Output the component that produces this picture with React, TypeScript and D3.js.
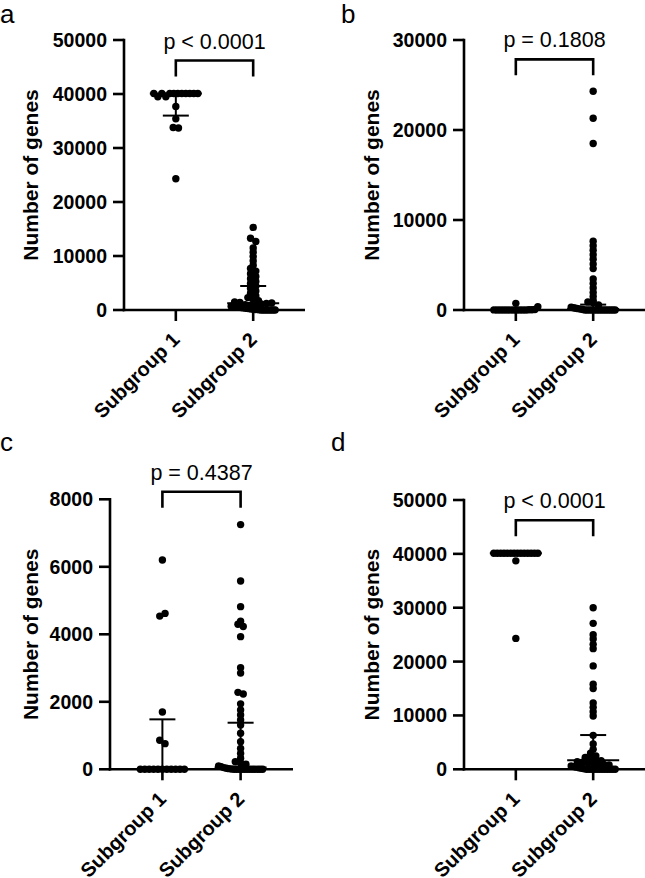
import React from 'react';
import * as d3 from 'd3';

// ---------- data ----------
const groups = ['Subgroup 1', 'Subgroup 2'];
const panelLetters = ['a', 'b', 'c', 'd'];
const pLabels = ['p < 0.0001', 'p = 0.1808', 'p = 0.4387', 'p < 0.0001'];
const yMaxes = [50000, 30000, 8000, 50000];
const yTickSteps = [10000, 10000, 2000, 10000];
const bracketValues = [46200, 27850, 8225, 46250];
const yTitle = 'Number of genes';

const aSub1 = [40100, 39500, 40100, 39500, 40100, 40100, 40100, 40100, 40100, 40100, 40100, 40100, 37700, 35400, 33800, 33700, 24300];
const aSub2 = [15300, 13300, 12700, 11500, 10700, 9900, 9100, 8300, 7700, 7200, 6700, 6200, 5800, 5300, 4900, 4400, 4000, 3500, 3100, 2600, 2300, 2000, 1700,
  1500, 1400, 1000, 900, 800, 1100, 1200, 1300,
  700, 650, 600, 550, 500, 450, 400, 350, 300, 250, 200, 150, 100, 100, 50, 0, 0, 0, 0, 0, 0, 0, 0];
const bSub1 = [10, 0, 0, 0, 0, 0, 0, 0, 0, 0, 0, 0, 20, 30, 50, 370, 740];
const bSub2 = [24300, 21300, 18500, 7650, 7150, 6650, 6150, 5650, 5100, 4600, 3450, 2950, 2450, 1950, 1500, 1050, 900, 810, 560,
  300, 250, 200, 150, 100, 50, 0, 0, 0, 0, 0, 0, 0, 0, 0, 0, 0, 0, 0, 0];
const cSub1 = [6200, 4540, 4620, 1700, 860, 760, 0, 0, 0, 0, 0, 0, 0, 0, 0, 0, 0];
const cSub2 = [7250, 5580, 4820, 4390, 4300, 4230, 3930, 3010, 2850, 2280, 2230, 1940, 1760, 1610, 1460, 1310, 1070, 820, 620, 470, 330,
  225, 190, 150, 100, 80, 50, 30, 20, 10, 0, 0, 0, 0, 0, 0, 0, 0, 0, 0, 0, 0];
const dSub1 = [40100, 40100, 40100, 40100, 40100, 40100, 40100, 40100, 40100, 40100, 40100, 40100, 40100, 40100, 38700, 24300];
const dSub2 = [30000, 27100, 25000, 24200, 23200, 22400, 19200, 15800, 15000, 12300, 11500, 10700, 9900, 6300, 4700, 3700, 3000, 2500,
  2200, 2000, 1800, 1600, 1400, 1300, 1200, 1100, 1000, 900, 800,
  600, 500, 400, 300, 200, 100, 0, 0, 0, 0, 0, 0, 0, 0, 0, 0, 0, 0];

// [centre, low, high] of the error bars
const aStats = [[40100, 36000, 40100], [1240, 150, 4444]];
const bStats = [[0, 0, 20], [100, 0, 600]];
const cStats = [[0, 0, 1480], [50, 0, 1380]];
const dStats = [[40100, 40100, 40100], [1700, 200, 6360]];

const panelData = [[aSub1, aSub2], [bSub1, bSub2], [cSub1, cSub2], [dSub1, dSub2]];
const panelStats = [aStats, bStats, cStats, dStats];

// ---------- layout ----------
const frames = [
  { axisX: 124, top: 40, base: 310, width: 181, right: 305, titleX: 30, letterX: 0, letterY: 23 },
  { axisX: 464, top: 40, base: 310, width: 181, right: 645, titleX: 371, letterX: 341, letterY: 23 },
  { axisX: 110, top: 499.3, base: 769.3, width: 183, right: 293, titleX: 30, letterX: 0, letterY: 451 },
  { axisX: 464, top: 500, base: 769.3, width: 181, right: 645, titleX: 371, letterX: 331, letterY: 451 },
];

const FONT = '"Liberation Sans", Arial, Helvetica, sans-serif';
const R = 3.7;
const AXW = 2.6;

function swarm(values: number[], y: (v: number) => number, cx: number, T = 4, s = 5.3, maxW = 44) {
  const pts = values.map((v, i) => ({ v, i, py: y(v) }));
  const sorted = [...pts].sort((a, b) => b.py - a.py);
  const rows: { start: number; pts: typeof pts }[] = [];
  let cur: { start: number; pts: typeof pts } | null = null;
  for (const p of sorted) {
    if (!cur || cur.start - p.py >= T) {
      cur = { start: p.py, pts: [] };
      rows.push(cur);
    }
    cur.pts.push(p);
  }
  const out: { x: number; y: number }[] = [];
  for (const row of rows) {
    row.pts.sort((a, b) => a.i - b.i);
    const n = row.pts.length;
    const sp = n > 1 ? Math.min(s, maxW / (n - 1)) : 0;
    row.pts.forEach((p, k) => out.push({ x: cx + (k - (n - 1) / 2) * sp, y: p.py }));
  }
  return out;
}

function Panel({ idx }: { idx: number }) {
  const f = frames[idx];
  const y = d3.scaleLinear().domain([0, yMaxes[idx]]).range([f.base, f.top]);
  const x = d3.scalePoint<string>().domain(groups).range([f.axisX, f.axisX + f.width]).padding(0.67);
  const ticks = d3.range(0, yMaxes[idx] + 1, yTickSteps[idx]);
  const fmt = d3.format('d');
  const x1 = x(groups[0])!;
  const x2 = x(groups[1])!;
  const by = y(bracketValues[idx]);
  const midY = (f.top + f.base) / 2;
  return (
    <g>
      <text x={f.letterX} y={f.letterY} fontFamily={FONT} fontSize={26} fill="#000">{panelLetters[idx]}</text>
      {/* y axis */}
      <line x1={f.axisX} x2={f.axisX} y1={f.base + AXW / 2} y2={f.top - AXW / 2} stroke="#000" strokeWidth={AXW} />
      {ticks.map((t) => (
        <g key={t}>
          <line x1={f.axisX - 11} x2={f.axisX} y1={y(t)} y2={y(t)} stroke="#000" strokeWidth={AXW} />
          <text x={f.axisX - 17} y={y(t)} dy="0.36em" textAnchor="end" fontFamily={FONT} fontWeight="bold" fontSize={19.5} fill="#000">{fmt(t)}</text>
        </g>
      ))}
      <text transform={`translate(${f.titleX},${midY}) rotate(-90)`} textAnchor="middle" dy="0.36em" fontFamily={FONT} fontWeight="bold" fontSize={21} fill="#000">{yTitle}</text>
      {/* x axis */}
      <line x1={f.axisX - AXW / 2} x2={f.right} y1={f.base} y2={f.base} stroke="#000" strokeWidth={AXW} />
      {groups.map((g) => (
        <g key={g}>
          <line x1={x(g)!} x2={x(g)!} y1={f.base} y2={f.base + 11} stroke="#000" strokeWidth={AXW} />
          <text transform={`translate(${x(g)! + 5},${f.base + 31}) rotate(-45)`} textAnchor="end" fontFamily={FONT} fontWeight="bold" fontSize={20} fill="#000">{g}</text>
        </g>
      ))}
      {/* dots */}
      {panelData[idx].map((vals, gi) =>
        swarm(vals, y, x(groups[gi])!).map((p, k) => <circle key={`${gi}-${k}`} cx={p.x} cy={p.y} r={R} fill="#000" />)
      )}
      {/* error bars */}
      {panelStats[idx].map(([c, lo, hi], gi) => {
        const gx = x(groups[gi])!;
        return (
          <g key={`e${gi}`} stroke="#000" strokeWidth={2}>
            <line x1={gx} x2={gx} y1={y(lo)} y2={y(hi)} />
            <line x1={gx - 13} x2={gx + 13} y1={y(lo)} y2={y(lo)} />
            <line x1={gx - 13} x2={gx + 13} y1={y(hi)} y2={y(hi)} />
            <line x1={gx - 26} x2={gx + 26} y1={y(c)} y2={y(c)} />
          </g>
        );
      })}
      {/* bracket */}
      <path d={`M${x1},${by + 16}V${by}H${x2}V${by + 16}`} fill="none" stroke="#000" strokeWidth={2.6} />
      <text x={(x1 + x2) / 2} y={by - 12} textAnchor="middle" fontFamily={FONT} fontSize={21.5} fill="#000">{pLabels[idx]}</text>
    </g>
  );
}

export default function App() {
  return (
    <svg width={645} height={878} style={{ position: 'absolute', left: 0, top: 0, background: '#fff' }}>
      <rect width={645} height={878} fill="#fff" />
      {[0, 1, 2, 3].map((i) => <Panel key={i} idx={i} />)}
    </svg>
  );
}
